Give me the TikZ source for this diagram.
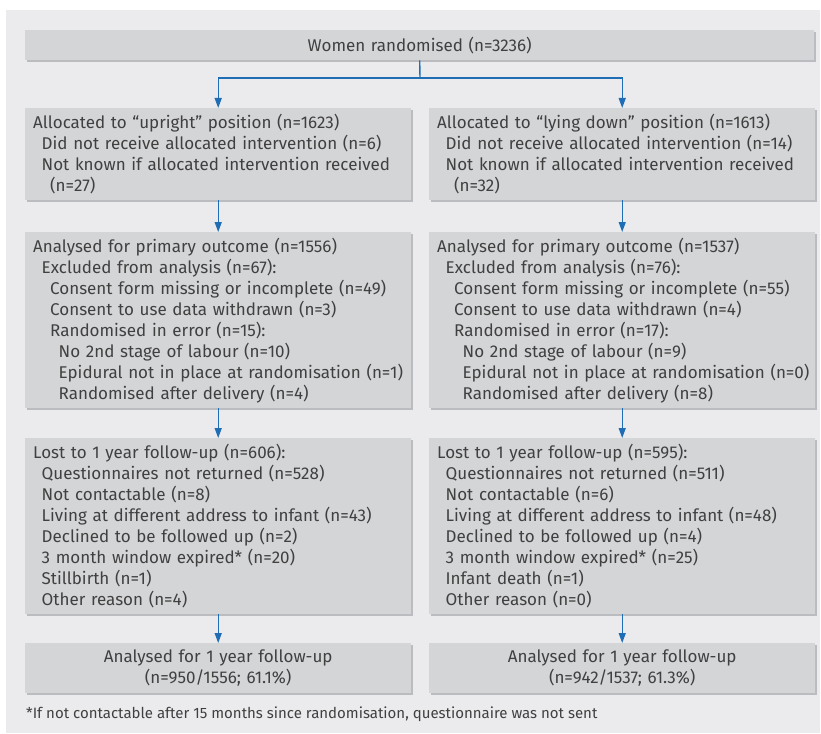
\documentclass[tikz,border=0pt]{standalone}
\usepackage{fontspec}
\setmainfont{Fira Sans}
\usetikzlibrary{arrows.meta,shadows}
\definecolor{panel}{HTML}{EBEBED}
\definecolor{boxgray}{HTML}{D4D5D7}
\definecolor{shadowgray}{HTML}{BBBCBF}
\definecolor{flowblue}{HTML}{1F6DB5}
\definecolor{txt}{HTML}{404040}
\newcommand{\ind}{\hspace*{8.5pt}}

\begin{document}
\begin{tikzpicture}[x=1pt, y=-1pt, >={Triangle[width=7pt,length=10pt]},
    box/.style={fill=boxgray, text=txt, anchor=north west, inner xsep=8pt, inner ysep=0pt,
        minimum width=386pt, text width=370pt, align=left, font=\fontsize{17}{21}\selectfont,
        drop shadow={shadow xshift=2pt, shadow yshift=-2pt, fill=shadowgray, opacity=1}},
    flow/.style={draw=flowblue, line width=1.4pt}]
    \useasboundingbox (0,0) rectangle (821,733);
    % Background panel
    \fill[panel] (6,10) rectangle (820,733);

    % Top box
    \node[box, minimum width=789pt, text width=773pt, align=center, minimum height=30pt] (rand) at (25,30) {Women randomised (n=3236)};

    % Upright arm
    \node[box, minimum height=92pt] (up1) at (25,108) {Allocated to “upright” position (n=1623)\\
        \ind Did not receive allocated intervention (n=6)\\
        \ind Not known if allocated intervention received\\
        \ind\ind (n=27)};
    \node[box, minimum height=176pt] (up2) at (25,232) {Analysed for primary outcome (n=1556)\\
        \ind Excluded from analysis (n=67):\\
        \ind\ind Consent form missing or incomplete (n=49)\\
        \ind\ind Consent to use data withdrawn (n=3)\\
        \ind\ind Randomised in error (n=15):\\
        \ind\ind\ind No 2nd stage of labour (n=10)\\
        \ind\ind\ind \mbox{Epidural not in place at randomisation (n=1)}\\
        \ind\ind\ind Randomised after delivery (n=4)};
    \node[box, minimum height=176pt] (up3) at (25,438) {Lost to 1 year follow-up (n=606):\\
        \ind Questionnaires not returned (n=528)\\
        \ind Not contactable (n=8)\\
        \ind Living at different address to infant (n=43)\\
        \ind Declined to be followed up (n=2)\\
        \ind 3 month window expired* (n=20)\\
        \ind Stillbirth (n=1)\\
        \ind Other reason (n=4)};
    \node[box, align=center, minimum height=50pt] (up4) at (25,643) {Analysed for 1 year follow-up\\(n=950/1556; 61.1\%)};

    % Lying down arm
    \node[box, minimum height=92pt] (lie1) at (429,108) {Allocated to “lying down” position (n=1613)\\
        \ind Did not receive allocated intervention (n=14)\\
        \ind Not known if allocated intervention received\\
        \ind\ind (n=32)};
    \node[box, minimum height=176pt] (lie2) at (429,232) {Analysed for primary outcome (n=1537)\\
        \ind Excluded from analysis (n=76):\\
        \ind\ind Consent form missing or incomplete (n=55)\\
        \ind\ind Consent to use data withdrawn (n=4)\\
        \ind\ind Randomised in error (n=17):\\
        \ind\ind\ind No 2nd stage of labour (n=9)\\
        \ind\ind\ind \mbox{Epidural not in place at randomisation (n=0)}\\
        \ind\ind\ind Randomised after delivery (n=8)};
    \node[box, minimum height=176pt] (lie3) at (429,438) {Lost to 1 year follow-up (n=595):\\
        \ind Questionnaires not returned (n=511)\\
        \ind Not contactable (n=6)\\
        \ind Living at different address to infant (n=48)\\
        \ind Declined to be followed up (n=4)\\
        \ind 3 month window expired* (n=25)\\
        \ind Infant death (n=1)\\
        \ind Other reason (n=0)};
    \node[box, align=center, minimum height=50pt] (lie4) at (429,643) {Analysed for 1 year follow-up\\(n=942/1537; 61.3\%)};

    % Footnote
    \node[anchor=base west, text=txt, inner sep=0pt, font=\fontsize{15}{18}\selectfont] (note) at (26,718) {*If not contactable after 15 months since randomisation, questionnaire was not sent};

    % Arrows
    \coordinate (split) at (420,78);
    \draw[flow] (rand.south) -- (split);
    \draw[flow, ->] (split) -| (up1.north);
    \draw[flow, ->] (split) -| (lie1.north);
    \draw[flow, ->] (up1.south) -- (up2.north);
    \draw[flow, ->] (up2.south) -- (up3.north);
    \draw[flow, ->] (up3.south) -- (up4.north);
    \draw[flow, ->] (lie1.south) -- (lie2.north);
    \draw[flow, ->] (lie2.south) -- (lie3.north);
    \draw[flow, ->] (lie3.south) -- (lie4.north);
\end{tikzpicture}
\end{document}
